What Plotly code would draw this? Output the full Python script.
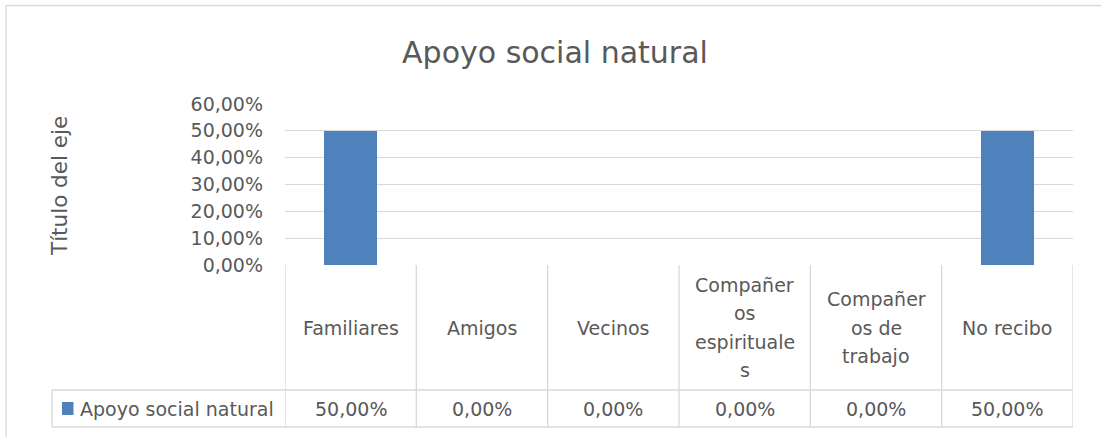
import plotly.graph_objects as go

# ---- data ----
categories = ["Familiares", "Amigos", "Vecinos", "Compañeros espirituales", "Compañeros de trabajo", "No recibo"]
category_labels = ["Familiares", "Amigos", "Vecinos", "Compañer<br>os<br>espirituale<br>s", "Compañer<br>os de<br>trabajo", "No recibo"]
values = [0.50, 0.0, 0.0, 0.0, 0.0, 0.50]
series_name = "Apoyo social natural"
title_text = "Apoyo social natural"
y_title = "Título del eje"
y_ticks = [0, 0.1, 0.2, 0.3, 0.4, 0.5, 0.6]

W, H = 1101, 437
FONT = "DejaVu Sans"
BODY = 19
TXT = "#595959"
GRID = "#D9D9D9"
BAR = "#4F81BD"


def px(x):
    return x / W


def py(y):
    return 1 - y / H


plot_l, plot_r = 285, 1073
plot_t, plot_b = 104, 265
row1_b, row2_b = 390, 427
legend_l = 52
line_pitch = 28.5

fig = go.Figure()
fig.add_trace(go.Bar(x=list(range(len(categories))), y=values, name=series_name,
                     marker=dict(color=BAR, line=dict(width=0)), width=0.4,
                     showlegend=False, hoverinfo="skip"))

shapes = []
# chart border (top and left)
shapes.append(dict(type="line", xref="paper", yref="paper", x0=px(6), x1=1.0, y0=py(5.5), y1=py(5.5),
                   line=dict(color=GRID, width=1.3)))
shapes.append(dict(type="line", xref="paper", yref="paper", x0=px(6), x1=px(6), y0=py(5.5), y1=0,
                   line=dict(color=GRID, width=1.3)))
# table vertical lines at category boundaries
n = len(categories)
for i in range(n + 1):
    shapes.append(dict(type="line", xref="x", yref="paper", x0=i - 0.5, x1=i - 0.5,
                       y0=py(plot_b), y1=py(row2_b), line=dict(color=GRID, width=1.3)))
# table horizontal lines
for yy in (row1_b, row2_b):
    shapes.append(dict(type="line", xref="paper", yref="paper", x0=px(legend_l), x1=px(plot_r),
                       y0=py(yy), y1=py(yy), line=dict(color=GRID, width=1.3)))
# legend cell left border
shapes.append(dict(type="line", xref="paper", yref="paper", x0=px(legend_l), x1=px(legend_l),
                   y0=py(row1_b), y1=py(row2_b), line=dict(color=GRID, width=1.3)))
# legend key square
shapes.append(dict(type="rect", xref="paper", yref="paper", x0=px(62), x1=px(73.5),
                   y0=py(415), y1=py(402), fillcolor=BAR, line=dict(width=0)))

annotations = []
row1_c = (plot_b + row1_b) / 2
row2_c = (row1_b + row2_b) / 2
for i, (lab, v) in enumerate(zip(category_labels, values)):
    lines = lab.split("<br>")
    k = len(lines)
    for j, ln in enumerate(lines):
        yc = row1_c + (j - (k - 1) / 2) * line_pitch
        annotations.append(dict(x=i, xref="x", y=py(yc), yref="paper", text=ln, showarrow=False,
                                xanchor="center", yanchor="middle", align="center",
                                font=dict(family=FONT, size=BODY, color=TXT)))
    val_txt = f"{v * 100:.2f}%".replace(".", ",")
    annotations.append(dict(x=i, xref="x", y=py(row2_c), yref="paper", text=val_txt, showarrow=False,
                            xanchor="center", yanchor="middle",
                            font=dict(family=FONT, size=BODY, color=TXT)))
# legend text
annotations.append(dict(x=px(78), xref="paper", y=py(row2_c), yref="paper", text=series_name,
                        showarrow=False, xanchor="left", yanchor="middle",
                        font=dict(family=FONT, size=BODY, color=TXT)))
# y axis title
annotations.append(dict(x=px(60), xref="paper", y=py(186), yref="paper", text=y_title, textangle=-90,
                        showarrow=False, xanchor="center", yanchor="middle",
                        font=dict(family=FONT, size=21.5, color=TXT)))

fig.update_layout(
    width=W, height=H, autosize=False,
    margin=dict(l=0, r=0, t=0, b=0, pad=0, autoexpand=False),
    paper_bgcolor="white", plot_bgcolor="white",
    separators=",.",
    title=dict(text=title_text, x=px(555), y=py(52), xanchor="center", yanchor="middle",
               xref="paper", yref="paper", automargin=False,
               font=dict(family=FONT, size=30, color=TXT)),
    xaxis=dict(domain=[px(plot_l), px(plot_r)], range=[-0.5, n - 0.5], showticklabels=False,
               showgrid=False, zeroline=False, showline=False, ticks="", automargin=False),
    yaxis=dict(domain=[py(plot_b), py(plot_t)], range=[0, 0.6], tickvals=y_ticks, tickformat=".2%",
               showgrid=True, gridcolor=GRID, gridwidth=1.3, zeroline=False, showline=False,
               ticks="", ticklabelstandoff=21, automargin=False,
               tickfont=dict(family=FONT, size=BODY, color=TXT)),
    shapes=shapes,
    annotations=annotations,
    bargap=0,
)

fig.write_html("out.html", config=dict(displayModeBar=False, staticPlot=True),
               post_script="document.body.style.margin='0';document.body.style.overflow='hidden';")
